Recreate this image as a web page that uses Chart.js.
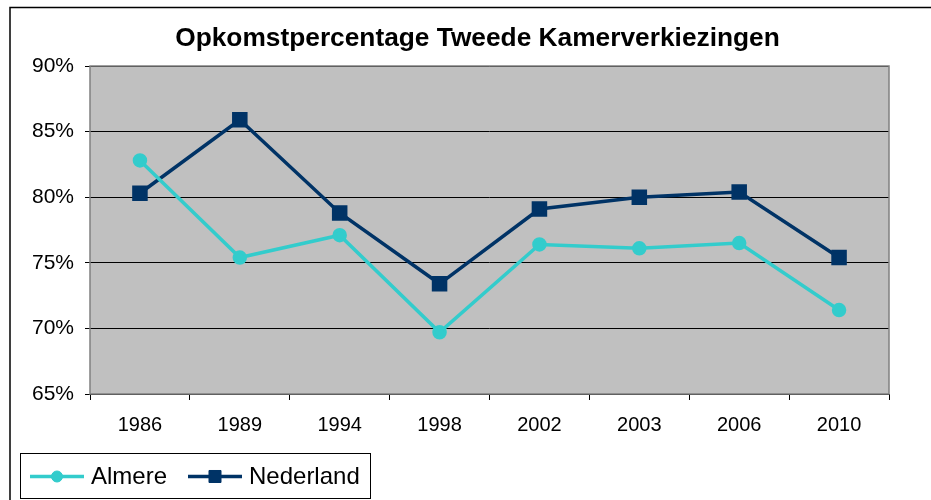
<!DOCTYPE html>
<html>
<head>
<meta charset="utf-8">
<script src="https://cdn.jsdelivr.net/npm/chart.js@4.4.1/dist/chart.umd.min.js"></script>
<style>
  html, body { margin: 0; padding: 0; background: #fff; }
  #wrap { width: 931px; height: 500px; position: relative; }
</style>
</head>
<body>
<div id="wrap"><canvas id="opkomstChart"></canvas></div>
<script>
const jaren = ['1986', '1989', '1994', '1998', '2002', '2003', '2006', '2010'];
const almere = [82.8, 75.4, 77.1, 69.7, 76.4, 76.1, 76.5, 71.4];
const nederland = [80.3, 85.9, 78.8, 73.4, 79.1, 80.0, 80.4, 75.4];
const yTicks = [65, 70, 75, 80, 85, 90];
const titel = 'Opkomstpercentage Tweede Kamerverkiezingen';

const FONT = '"Liberation Sans", Arial, sans-serif';

// achtergrond, kader, titel en rand van het plotvlak
const kaderPlugin = {
    id: 'kader',
    beforeDraw(chart) {
        const ctx = chart.ctx;
        const a = chart.chartArea;
        ctx.save();
        ctx.fillStyle = '#fff';
        ctx.fillRect(0, 0, chart.width, chart.height);
        ctx.strokeStyle = '#000';
        ctx.lineWidth = 1.5;
        ctx.strokeRect(10, 7.5, 1000, 1000);
        ctx.fillStyle = '#c0c0c0';
        ctx.fillRect(a.left, a.top, a.right - a.left, a.bottom - a.top);
        // titel
        ctx.fillStyle = '#000';
        ctx.font = 'bold 26.3px ' + FONT;
        ctx.textAlign = 'center';
        ctx.textBaseline = 'middle';
        ctx.fillText(titel, 477.5, 38.5);
        ctx.restore();
    },
    beforeDatasetsDraw(chart) {
        const ctx = chart.ctx;
        const a = chart.chartArea;
        ctx.save();
        ctx.strokeStyle = '#808080';
        ctx.lineWidth = 1.5;
        ctx.strokeRect(a.left, a.top, a.right - a.left, a.bottom - a.top);
        ctx.restore();
    }
};

// legenda linksonder met kader, lijn + marker
const legendaPlugin = {
    id: 'legenda',
    afterDraw(chart) {
        const ctx = chart.ctx;
        ctx.save();
        ctx.strokeStyle = '#000';
        ctx.lineWidth = 1;
        ctx.strokeRect(20.5, 453.5, 350, 45);
        const items = [
            { x: 30, ds: chart.data.datasets[0] },
            { x: 188, ds: chart.data.datasets[1] }
        ];
        const y = 476.5;
        items.forEach(it => {
            ctx.strokeStyle = it.ds.borderColor;
            ctx.lineWidth = it.ds.borderWidth;
            ctx.beginPath();
            ctx.moveTo(it.x, y);
            ctx.lineTo(it.x + 54, y);
            ctx.stroke();
            ctx.fillStyle = it.ds.pointBackgroundColor;
            ctx.strokeStyle = it.ds.pointBorderColor;
            ctx.lineWidth = 1;
            Chart.helpers.drawPoint(ctx, {
                pointStyle: it.ds.pointStyle,
                rotation: 0,
                radius: it.ds.pointRadius,
                borderWidth: 1
            }, it.x + 27, y);
            ctx.fillStyle = '#000';
            ctx.font = '24px ' + FONT;
            ctx.textBaseline = 'middle';
            ctx.textAlign = 'left';
            ctx.fillText(it.ds.label, it.x + 61, y + 1);
        });
        ctx.restore();
    }
};

const ctx = document.getElementById('opkomstChart').getContext('2d');
new Chart(ctx, {
    type: 'line',
    data: {
        labels: jaren,
        datasets: [{
            label: 'Almere',
            data: almere,
            borderColor: '#33cccc',
            backgroundColor: '#33cccc',
            pointBackgroundColor: '#33cccc',
            pointBorderColor: '#33cccc',
            pointStyle: 'circle',
            pointRadius: 5.5,
            borderWidth: 3.5,
            tension: 0
        }, {
            label: 'Nederland',
            data: nederland,
            borderColor: '#003366',
            backgroundColor: '#003366',
            pointBackgroundColor: '#003366',
            pointBorderColor: '#003366',
            pointStyle: 'rect',
            pointRadius: 8.5,
            borderWidth: 3.5,
            tension: 0
        }]
    },
    options: {
        responsive: true,
        maintainAspectRatio: false,
        animation: false,
        layout: { padding: { top: 66, left: 0, right: 42, bottom: 0 } },
        plugins: {
            legend: { display: false },
            tooltip: { enabled: false },
            title: { display: false }
        },
        scales: {
            x: {
                offset: true,
                afterFit: s => { s.height = 106; },
                border: { display: false },
                grid: {
                    offset: true,
                    drawOnChartArea: false,
                    drawTicks: true,
                    tickLength: 6,
                    tickColor: '#000'
                },
                ticks: {
                    color: '#000',
                    padding: 13,
                    font: { family: FONT, size: 20 }
                }
            },
            y: {
                min: 65,
                max: 90,
                afterFit: s => { s.width = 90; },
                afterBuildTicks: s => { s.ticks = yTicks.map(v => ({ value: v })); },
                border: { display: false },
                grid: {
                    color: '#000',
                    lineWidth: 1,
                    tickLength: 5,
                    tickColor: '#000'
                },
                ticks: {
                    color: '#000',
                    padding: 11,
                    font: { family: FONT, size: 21 },
                    callback: v => v + '%'
                }
            }
        }
    },
    plugins: [kaderPlugin, legendaPlugin]
});
</script>
</body>
</html>
